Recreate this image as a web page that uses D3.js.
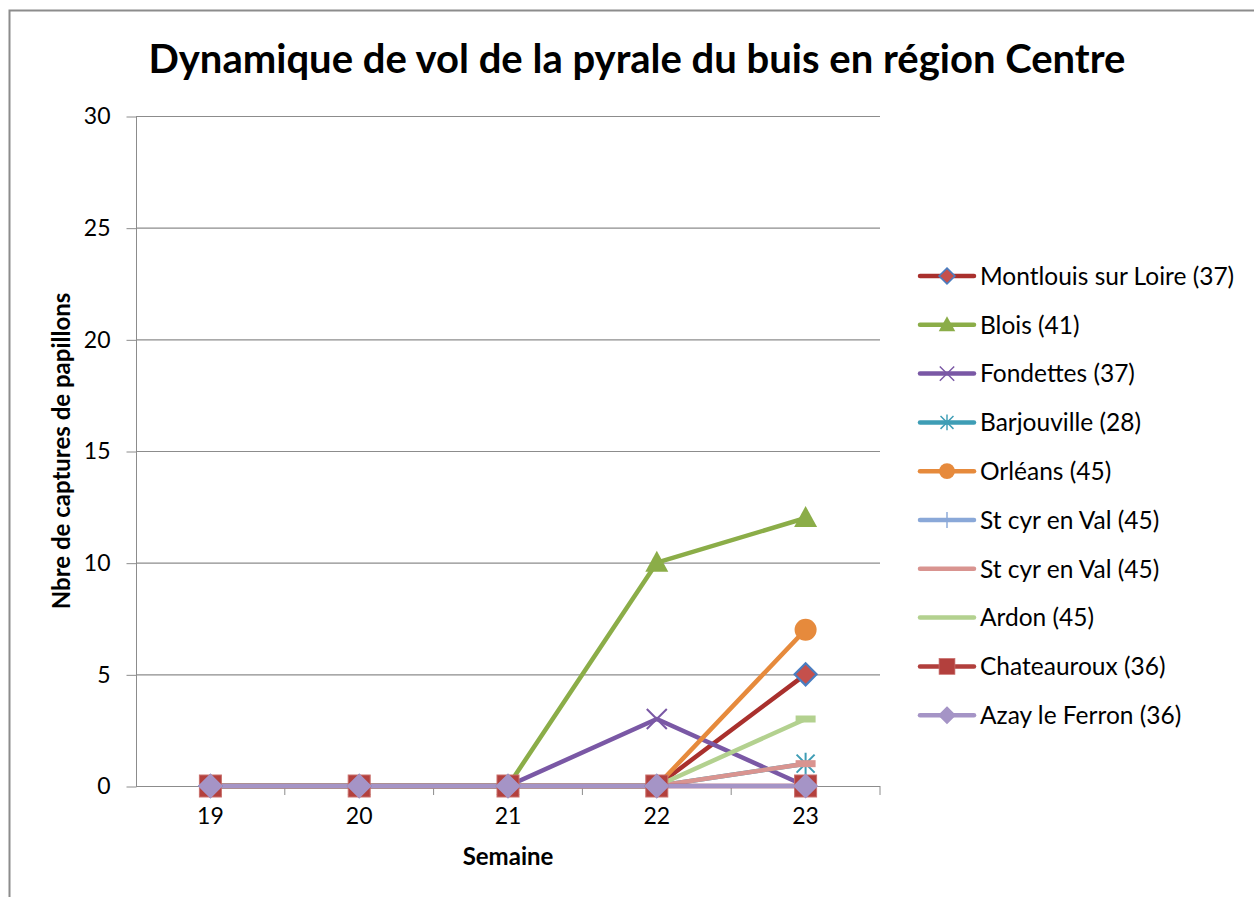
<!DOCTYPE html>
<html lang="fr">
  <head>
    <meta charset="utf-8">
    <title>Pyrale du buis</title>
    <script src="https://cdnjs.cloudflare.com/ajax/libs/d3/7.8.5/d3.min.js"></script>
    <style type="text/css">
      body { margin: 0; background: #fff; }
      text { font-family: Lato, "Open Sans", sans-serif; fill: #000; }
    </style>
  </head>
  <body>
    <script type="text/javascript">

    // data
    var weeks = ["19", "20", "21", "22", "23"];
    var yTicks = [0, 5, 10, 15, 20, 25, 30];

    var montlouis   = [0, 0, 0, 0, 5];
    var blois       = [0, 0, 0, 10, 12];
    var fondettes   = [0, 0, 0, 3, 0];
    var barjouville = [0, 0, 0, 0, 1];
    var orleans     = [0, 0, 0, 0, 7];
    var stcyr1      = [0, 0, 0, 0, null];
    var stcyr2      = [0, 0, 0, 0, 1];
    var ardon       = [0, 0, 0, 0, 3];
    var chateauroux = [0, 0, 0, 0, 0];
    var azay        = [0, 0, 0, 0, 0];

    var names = ["Montlouis sur Loire (37)", "Blois (41)", "Fondettes (37)", "Barjouville (28)",
                 "Orléans (45)", "St cyr en Val (45)", "St cyr en Val (45)", "Ardon (45)",
                 "Chateauroux (36)", "Azay le Ferron (36)"];
    var values = [montlouis, blois, fondettes, barjouville, orleans, stcyr1, stcyr2, ardon, chateauroux, azay];

    // styles
    var lineColors = ["#A9302D", "#8BAD48", "#7A58A5", "#3E9DB5", "#E68A3C", "#8AA8D8", "#D99490", "#B3D18F", "#B13F3C", "#A594C6"];
    var markers    = ["diamond", "triangle", "x", "star", "circle", "plus", "dash", "dash", "square", "diamond"];
    var markFill   = ["#C5504C", "#8BAD48", "#7A58A5", "#3E9DB5", "#E68A3C", "#8AA8D8", "#D99490", "#B3D18F", "#B3403D", "#A594C6"];
    var markStroke = ["#4A7DC0", "#8BAD48", "#7A58A5", "#3E9DB5", "#E68A3C", "#8AA8D8", "#D99490", "#B3D18F", "#C9706D", "#A594C6"];

    var series = names.map(function(n, i) {
      return { name: n, values: values[i], color: lineColors[i], marker: markers[i], fill: markFill[i], stroke: markStroke[i] };
    });

    var w = 1254, h = 897;
    var pLeft = 136, pRight = 880, pTop = 116, pBottom = 786;

    var svg = d3.select("body").append("svg")
      .attr("width", w)
      .attr("height", h);

    // outer frame (cut off on the right and bottom)
    svg.append("rect")
      .attr("x", 9.5).attr("y", 10.5)
      .attr("width", 1300).attr("height", 1000)
      .attr("fill", "none")
      .attr("stroke", "#8c8c8c")
      .attr("stroke-width", 2);

    var x = d3.scaleBand().domain(weeks).range([pLeft, pRight]);
    var y = d3.scaleLinear().domain([0, 30]).range([pBottom, pTop]);
    function cx(i) { return x(weeks[i]) + x.bandwidth() / 2; }

    // gridlines
    svg.append("g").selectAll("line")
      .data(yTicks.filter(function(d) { return d > 0; }))
      .enter().append("line")
      .attr("x1", pLeft).attr("x2", pRight)
      .attr("y1", function(d) { return y(d) + 0.5; })
      .attr("y2", function(d) { return y(d) + 0.5; })
      .attr("stroke", "#8c8c8c")
      .attr("stroke-width", 1.2);

    // y axis
    var yAxis = svg.append("g")
      .attr("transform", "translate(" + (pLeft + 0.5) + ",0.5)")
      .call(d3.axisLeft(y).tickValues(yTicks).tickSize(10).tickPadding(16));
    yAxis.select(".domain").attr("stroke", "#8c8c8c").attr("d", "M0," + pTop + "V" + pBottom);
    yAxis.selectAll(".tick line").attr("stroke", "#8c8c8c");
    yAxis.selectAll(".tick text").attr("font-size", 23).style("font-family", "Lato, sans-serif");

    // x axis
    var xAxis = svg.append("g")
      .attr("transform", "translate(0," + (pBottom + 0.5) + ")")
      .call(d3.axisBottom(x).tickSize(0).tickPadding(21));
    xAxis.select(".domain").attr("stroke", "#8c8c8c").attr("d", "M" + pLeft + ",0H" + pRight);
    xAxis.selectAll(".tick text").attr("font-size", 23).style("font-family", "Lato, sans-serif");
    svg.append("g").selectAll("line")
      .data(weeks.slice(1).concat(["end"]))
      .enter().append("line")
      .attr("x1", function(d) { return d === "end" ? pRight : x(d); })
      .attr("x2", function(d) { return d === "end" ? pRight : x(d); })
      .attr("y1", pBottom).attr("y2", pBottom + 9)
      .attr("stroke", "#8c8c8c");

    // lines
    var line = d3.line()
      .defined(function(d) { return d != null; })
      .x(function(d, i) { return cx(i); })
      .y(function(d) { return y(d); });

    svg.append("g").selectAll("path")
      .data(series)
      .enter().append("path")
      .attr("d", function(s) { return line(s.values); })
      .attr("fill", "none")
      .attr("stroke", function(s) { return s.color; })
      .attr("stroke-width", 4.5)
      .attr("stroke-linejoin", "round");

    function drawMarker(g, type, fill, stroke) {
      if (type === "diamond") {
        g.append("path").attr("d", "M0,-11L11,0L0,11L-11,0Z").attr("fill", fill).attr("stroke", stroke).attr("stroke-width", 2.2);
      } else if (type === "triangle") {
        g.append("path").attr("d", "M0,-12L11.5,9L-11.5,9Z").attr("fill", fill);
      } else if (type === "x") {
        g.append("path").attr("d", "M-10,-10L10,10M-10,10L10,-10").attr("stroke", stroke).attr("stroke-width", 2);
      } else if (type === "star") {
        g.append("path").attr("d", "M-9,-9L9,9M-9,9L9,-9M0,-11V11").attr("stroke", stroke).attr("stroke-width", 2);
      } else if (type === "circle") {
        g.append("circle").attr("r", 11).attr("fill", fill);
      } else if (type === "plus") {
        g.append("path").attr("d", "M-11,0H11M0,-11V11").attr("stroke", stroke).attr("stroke-width", 2);
      } else if (type === "dash") {
        g.append("rect").attr("x", -10).attr("y", -3.5).attr("width", 20).attr("height", 7).attr("fill", fill);
      } else if (type === "square") {
        g.append("rect").attr("x", -11).attr("y", -11).attr("width", 22).attr("height", 22).attr("fill", fill).attr("stroke", stroke).attr("stroke-width", 1);
      }
    }

    // markers, drawn over all lines
    var markG = svg.append("g");
    series.forEach(function(s) {
      s.values.forEach(function(v, i) {
        if (v == null) return;
        var g = markG.append("g").attr("transform", "translate(" + cx(i) + "," + y(v) + ")");
        drawMarker(g, s.marker, s.fill, s.stroke);
      });
    });

    // legend
    var legend = svg.append("g").attr("transform", "translate(920,276)");
    var row = legend.selectAll("g")
      .data(series)
      .enter().append("g")
      .attr("transform", function(d, i) { return "translate(0," + (i * 48.8) + ")"; });
    row.append("line")
      .attr("x1", 0).attr("x2", 54)
      .attr("stroke", function(d) { return d.color; })
      .attr("stroke-width", 4.5)
      .attr("stroke-linecap", "round");
    row.each(function(d) {
      if (d.marker === "dash") return;
      var g = d3.select(this).append("g").attr("transform", "translate(27,0) scale(0.72)");
      drawMarker(g, d.marker, d.fill, d.stroke);
    });
    row.append("text")
      .attr("x", 60).attr("dy", "0.36em")
      .attr("font-size", 24.5)
      .text(function(d) { return d.name; });

    // title and axis titles
    svg.append("text")
      .attr("x", 637).attr("y", 73)
      .attr("text-anchor", "middle")
      .attr("font-size", 40)
      .attr("font-weight", "bold")
      .text("Dynamique de vol de la pyrale du buis en région Centre");

    svg.append("text")
      .attr("transform", "translate(70,451) rotate(-90)")
      .attr("text-anchor", "middle")
      .attr("font-size", 24)
      .attr("font-weight", "bold")
      .text("Nbre de captures de papillons");

    svg.append("text")
      .attr("x", 508).attr("y", 865)
      .attr("text-anchor", "middle")
      .attr("font-size", 24)
      .attr("font-weight", "bold")
      .text("Semaine");

    </script>
  </body>
</html>
